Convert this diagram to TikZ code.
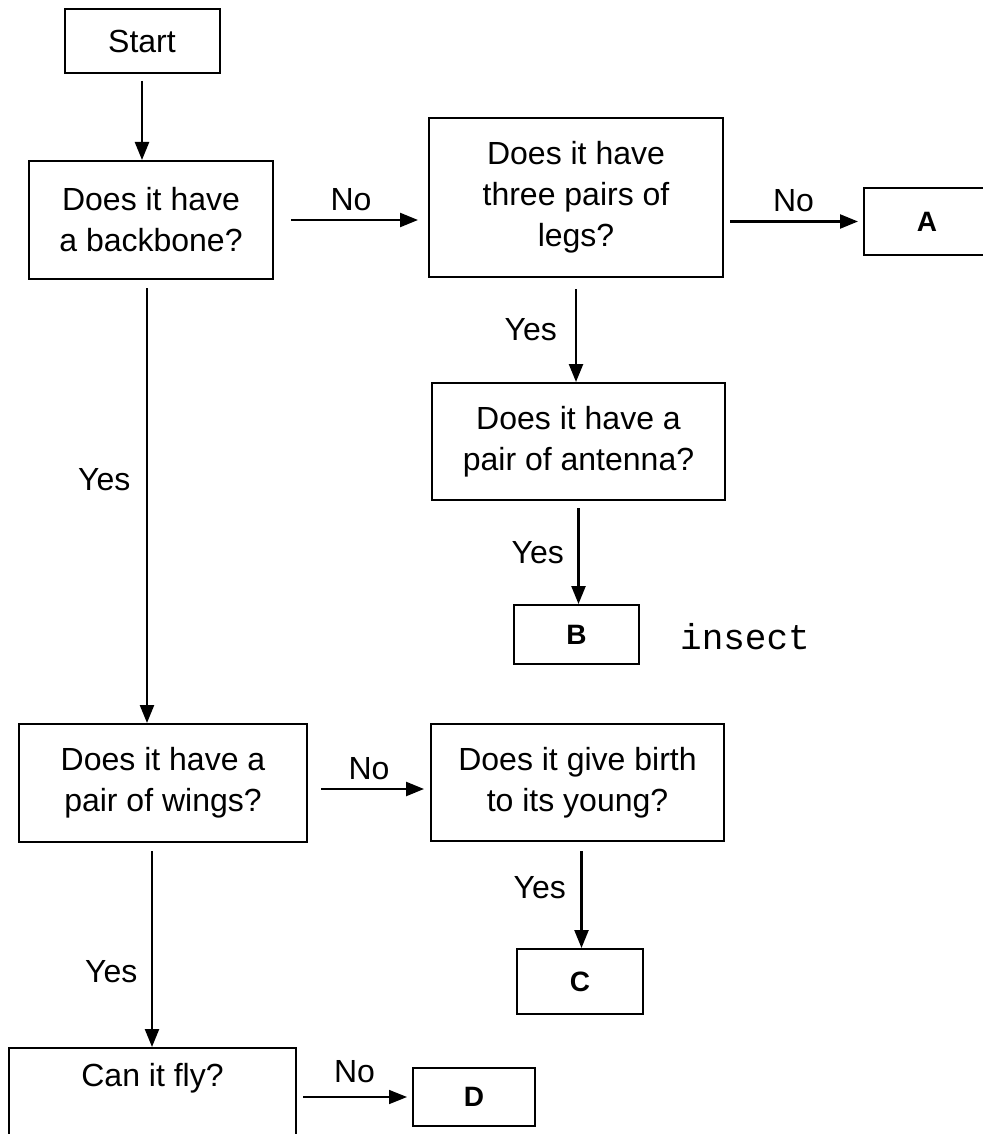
\documentclass[tikz,border=0pt]{standalone}
\usepackage{fontspec}
\setmainfont{Liberation Sans}
\newfontfamily\handfont{Liberation Mono}
\usetikzlibrary{arrows.meta}
\begin{document}
\begin{tikzpicture}[x=0.5pt,y=-0.5pt,
  box/.style={draw, line width=1pt, align=center, inner sep=0pt, font=\fontsize{16}{20.5}\selectfont},
  leaf/.style={draw, line width=1pt, inner sep=0pt, font=\fontsize{14}{16}\selectfont\bfseries},
  arr/.style={line width=1.2pt, -{Triangle[length=9pt,width=7pt]}},
  lbl/.style={font=\fontsize{16}{20}\selectfont, inner sep=2pt}]
\fill[white] (0,0) rectangle (983,1134);
\useasboundingbox (0,0) rectangle (983,1134);

\node[box, minimum width=77.5pt, minimum height=32pt] (start) at (142,41) {Start};
\node[box, minimum width=122pt, minimum height=59pt] (backbone) at (151,220) {Does it have\\a backbone?};
\node[box, minimum width=147pt, minimum height=79.5pt] (legs) at (576,197.5) {Does it have\\three pairs of\\legs?};
\node[leaf, minimum width=63pt, minimum height=33.5pt] (A) at (927,221.5) {A};
\node[box, minimum width=146.5pt, minimum height=58.5pt] (antenna) at (578.5,441.5) {Does it have a\\pair of antenna?};
\node[leaf, minimum width=62.5pt, minimum height=29.5pt] (B) at (576.5,634.5) {B};
\node[font=\handfont\fontsize{18}{20}\selectfont, inner sep=0pt] (insect) at (745,637) {insect};
\node[box, minimum width=144pt, minimum height=59pt] (wings) at (163,783) {Does it have a\\pair of wings?};
\node[box, minimum width=146.5pt, minimum height=58.5pt] (birth) at (577.5,782.5) {Does it give birth\\to its young?};
\node[leaf, minimum width=63pt, minimum height=32.5pt] (C) at (580,981.5) {C};
\node[box, minimum width=143.5pt, minimum height=70pt, anchor=north] (canfly) at (152.5,1047) {};
\node[lbl] (canflytext) at (152.5,1078) {Can it fly?};
\node[leaf, minimum width=61pt, minimum height=29pt] (D) at (474,1097) {D};

\draw[arr, shorten <=3.5pt] (start) -- (start |- backbone.north);
\draw[arr, shorten <=8.5pt, shorten >=5pt] (backbone.east) -- (backbone.east -| legs.west)
  node[lbl, midway, above=2pt] {No};
\draw[arr, shorten <=3pt, shorten >=2.5pt] (legs.east |- A) -- (A.west)
  node[lbl, midway, above=2pt] {No};
\draw[arr, shorten <=5.5pt] (legs.south) -- (legs.south |- antenna.north)
  node[lbl, midway, left=7pt] {Yes};
\draw[arr, shorten <=3.5pt] (antenna.south) -- (antenna.south |- B.north)
  node[lbl, midway, left=4.75pt] {Yes};
\draw[arr, shorten <=4pt] ([xshift=-2pt]backbone.south) -- ([xshift=-2pt]backbone.south |- wings.north)
  node[lbl, pos=0.45, left=5.75pt] {Yes};
\draw[arr, shorten <=6.5pt, shorten >=3pt] ([yshift=-3pt]wings.east) -- ([yshift=-3pt]wings.east -| birth.west)
  node[lbl, midway, above=2pt] {No};
\draw[arr, shorten <=4.5pt] ([xshift=2pt]birth.south) -- ([xshift=2pt]birth.south |- C.north)
  node[lbl, pos=0.43, left=5.25pt] {Yes};
\draw[arr, shorten <=4pt] ([xshift=-5.5pt]wings.south) -- ([xshift=-5.5pt]wings.south |- canfly.north)
  node[lbl, pos=0.63, left=4.75pt] {Yes};
\draw[arr, line width=0.8pt, shorten <=3pt, shorten >=2.5pt] (canfly.east |- D) -- (D.west)
  node[lbl, midway, above=4.5pt] {No};
\end{tikzpicture}
\end{document}
